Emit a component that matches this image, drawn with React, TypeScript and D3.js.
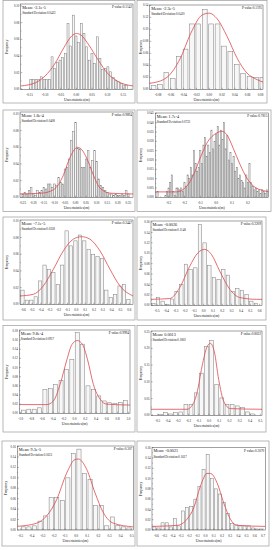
import React from "react";
import * as d3 from "d3";

// ---- data (10 residual histograms) ----
const means = ["-3.1e-5", "-2.3e-5", "1.8e-4", "1.7e-4", "-7.1e-5", "-0.0026", "9.8e-4", "0.0013", "9.3e-5", "-0.0021"];
const pValues = ["0.1142", "0.1195", "0.9894", "0.7815", "0.2447", "0.2209", "0.9994", "0.8022", "0.307", "0.3070"];
const stdDevs = ["0.0422", "0.0410", "0.0408", "0.0733", "0.0358", "0.1148", "0.0917", "0.1802", "0.1613", "0.1617"];

const xTickLabels = [
  ["-0.15", "-0.10", "-0.05", "0.00", "0.05", "0.10", "0.15"],
  ["-0.08", "-0.06", "-0.04", "-0.02", "0.00", "0.02", "0.04", "0.06", "0.08"],
  ["-0.25", "-0.20", "-0.15", "-0.10", "-0.05", "0.00", "0.05", "0.10", "0.15", "0.20", "0.25"],
  ["-0.3", "-0.2", "-0.1", "0.0", "0.1", "0.2"],
  ["-0.6", "-0.5", "-0.4", "-0.3", "-0.2", "-0.1", "0.0", "0.1", "0.2", "0.3", "0.4", "0.5", "0.6"],
  ["-0.5", "-0.4", "-0.3", "-0.2", "-0.1", "0.0", "0.1", "0.2", "0.3", "0.4", "0.5", "0.6"],
  ["-1.0", "-0.8", "-0.6", "-0.4", "-0.2", "0.0", "0.2", "0.4", "0.6", "0.8", "1.0"],
  ["-0.5", "-0.4", "-0.3", "-0.2", "-0.1", "0.0", "0.1", "0.2", "0.3", "0.4", "0.5"],
  ["-0.5", "-0.4", "-0.3", "-0.2", "-0.1", "0.0", "0.1", "0.2", "0.3", "0.4", "0.5"],
  ["-0.6", "-0.5", "-0.4", "-0.3", "-0.2", "-0.1", "0.0", "0.1", "0.2", "0.3", "0.4", "0.5", "0.6", "0.7"],
];

const yTickLabels = [
  ["0.00", "0.02", "0.04", "0.06", "0.08", "0.10"],
  ["0.00", "0.02", "0.04", "0.06", "0.08", "0.10", "0.12", "0.14"],
  ["0.00", "0.02", "0.04", "0.06", "0.08", "0.10"],
  ["0.000", "0.005", "0.010", "0.015", "0.020", "0.025", "0.030", "0.035", "0.040", "0.045"],
  ["0.00", "0.02", "0.04", "0.06", "0.08", "0.10"],
  ["0.00", "0.02", "0.04", "0.06", "0.08", "0.10", "0.12", "0.14", "0.16"],
  ["0.00", "0.02", "0.04", "0.06", "0.08", "0.10", "0.12", "0.14", "0.16", "0.18"],
  ["0.00", "0.05", "0.10", "0.15", "0.20", "0.25"],
  ["0.00", "0.02", "0.04", "0.06", "0.08", "0.10", "0.12", "0.14", "0.16"],
  ["0.00", "0.02", "0.04", "0.06", "0.08", "0.10", "0.12", "0.14", "0.16"],
];

const xDomains = [
  [-0.178, 0.181], [-0.093, 0.084], [-0.263, 0.272], [-0.384, 0.33], [-0.638, 0.642],
  [-0.565, 0.625], [-1.026, 1.03], [-0.565, 0.516], [-0.53, 0.514], [-0.654, 0.728],
];
const yTops = [0.1024, 0.1406, 0.1024, 0.0452, 0.101, 0.162, 0.182, 0.252, 0.161, 0.16];

// histogram bins: first edge, bin width, frequency per bin
const binStarts = [-0.15, -0.092, -0.255, -0.375, -0.635, -0.565, -1.0, -0.5, -0.5, -0.65];
const binWidths = [0.0085, 0.01, 0.01, 0.01, 0.05, 0.05, 0.1, 0.05, 0.05, 0.05];

const binHeights = [
  [0.012, 0.012, 0.012, 0.012, 0.015, 0.012, 0.012, 0.012, 0.039, 0.025, 0.032, 0.035, 0.038, 0.043, 0.079, 0.052, 0.089, 0.064, 0.056,
    0.079, 0.067, 0.051, 0.035, 0.043, 0.031, 0.063, 0.037, 0.024, 0.025, 0.027, 0.021, 0.014, 0.011, 0.009, 0.007, 0.005, 0.005],
  [0.006, 0.008, 0.028, 0.018, 0.055, 0.067, 0.109, 0.109, 0.133, 0.109, 0.109, 0.072, 0.063, 0.041, 0.026, 0.021, 0.02, 0.02],
  [0.004, 0.006, 0.004, 0.008, 0.012, 0.004, 0.002, 0.008, 0.006, 0.008, 0.012, 0.01, 0.016, 0.016, 0.012, 0.016, 0.014, 0.024,
    0.018, 0.016, 0.034, 0.036, 0.046, 0.068, 0.079, 0.09, 0.059, 0.058, 0.036, 0.036, 0.046, 0.056, 0.036, 0.044, 0.056, 0.043,
    0.022, 0.014, 0.012, 0.008, 0.006, 0.004, 0.004, 0.002, 0.004, 0.002, 0.002, 0.004, 0.002, 0.008, 0.004],
  [0.003, 0, 0, 0, 0, 0.001, 0.003, 0.005, 0.008, 0.012,
    0.003, 0.001, 0.005, 0.005, 0.004, 0.005, 0.003, 0.008, 0.006, 0.012,
    0.01, 0.016, 0.012, 0.025, 0.018, 0.014, 0.016, 0.025, 0.018, 0.028,
    0.032, 0.022, 0.028, 0.024, 0.036, 0.026, 0.03, 0.034, 0.038, 0.028,
    0.036, 0.031, 0.04, 0.026, 0.033, 0.02, 0.024, 0.018, 0.022, 0.014,
    0.016, 0.01, 0.012, 0.009, 0.008, 0.005, 0.012, 0.008, 0.018, 0.008,
    0.006, 0.004, 0.005, 0.003, 0.004, 0.002, 0.004, 0.003, 0.002, 0.004],
  [0.017, 0.005, 0.005, 0.009, 0.028, 0.047, 0.042, 0.038, 0.024, 0.047, 0.088, 0.07, 0.076, 0.083, 0.076, 0.066, 0.06, 0.057,
    0.055, 0.017, 0.008, 0.012, 0.022, 0.024, 0.006],
  [0.004, 0.015, 0.008, 0.002, 0.012, 0.027, 0.04, 0.079, 0.069, 0.072, 0.155, 0.12, 0.077, 0.053, 0.05, 0.069, 0.058, 0.027,
    0.032, 0.029, 0.021, 0.008, 0.004],
  [0.007, 0.009, 0.009, 0.012, 0.052, 0.054, 0.063, 0.072, 0.096, 0.118, 0.176, 0.151, 0.06, 0.052, 0.038, 0.027, 0.023, 0.022,
    0.024, 0.028],
  [0.002, 0.008, 0.004, 0.008, 0.01, 0.033, 0.033, 0.067, 0.126, 0.205, 0.223, 0.092, 0.052, 0.033, 0.033, 0.028, 0.023, 0.01, 0.004],
  [0.006, 0.006, 0.008, 0.017, 0.027, 0.062, 0.062, 0.057, 0.1, 0.147, 0.155, 0.108, 0.097, 0.047, 0.047, 0.008, 0.025, 0.009,
    0.006, 0.004],
  [0.006, 0.004, 0.014, 0.014, 0.006, 0.022, 0.008, 0.037, 0.044, 0.046, 0.06, 0.085, 0.118, 0.147, 0.1, 0.08, 0.07, 0.054,
    0.032, 0.013, 0.01, 0.008, 0.008, 0.008, 0.004, 0.002, 0.002],
];

// red fitted curves
const fitCurves: number[][][] = [
  [[-0.178, 0.004], [-0.13, 0.008], [-0.1, 0.016], [-0.07, 0.03], [-0.04, 0.05], [-0.015, 0.064], [0.0, 0.067], [0.015, 0.065],
    [0.04, 0.053], [0.07, 0.035], [0.1, 0.019], [0.13, 0.01], [0.181, 0.004]],
  [[-0.093, 0.01], [-0.087, 0.011], [-0.066, 0.02], [-0.045, 0.052], [-0.029, 0.093], [-0.011, 0.124], [0.0, 0.127],
    [0.012, 0.118], [0.028, 0.088], [0.0435, 0.052], [0.059, 0.027], [0.075, 0.016], [0.084, 0.012]],
  [[-0.263, 0.004], [-0.16, 0.005], [-0.105, 0.009], [-0.057, 0.027], [-0.034, 0.043], [-0.012, 0.055], [0.009, 0.06],
    [0.03, 0.057], [0.053, 0.047], [0.084, 0.027], [0.116, 0.011], [0.163, 0.005], [0.272, 0.004]],
  [[-0.384, 0.0029], [-0.248, 0.0029], [-0.185, 0.006], [-0.143, 0.012], [-0.101, 0.021], [-0.059, 0.029], [0.004, 0.0345],
    [0.036, 0.0354], [0.067, 0.0336], [0.109, 0.026], [0.151, 0.0175], [0.193, 0.0104], [0.235, 0.006], [0.298, 0.0036], [0.33, 0.003]],
  [[-0.638, 0.01], [-0.487, 0.012], [-0.374, 0.022], [-0.26, 0.042], [-0.147, 0.064], [-0.034, 0.078], [0.06, 0.081],
    [0.155, 0.078], [0.268, 0.064], [0.381, 0.042], [0.494, 0.022], [0.642, 0.01]],
  [[-0.565, 0.0115], [-0.364, 0.013], [-0.257, 0.034], [-0.15, 0.075], [-0.061, 0.101], [0.011, 0.1075], [0.082, 0.098],
    [0.171, 0.066], [0.279, 0.031], [0.386, 0.015], [0.564, 0.0115], [0.625, 0.0115]],
  [[-1.026, 0.019], [-0.517, 0.019], [-0.393, 0.027], [-0.269, 0.063], [-0.14, 0.118], [-0.05, 0.15], [0.05, 0.159],
    [0.15, 0.15], [0.24, 0.118], [0.35, 0.063], [0.474, 0.031], [0.598, 0.02], [1.03, 0.018]],
  [[-0.565, 0.018], [-0.214, 0.018], [-0.182, 0.023], [-0.117, 0.067], [-0.068, 0.146], [-0.019, 0.205], [0.013, 0.215],
    [0.052, 0.19], [0.094, 0.107], [0.143, 0.042], [0.208, 0.02], [0.516, 0.018]],
  [[-0.53, 0.007], [-0.356, 0.013], [-0.266, 0.027], [-0.176, 0.058], [-0.086, 0.109], [-0.011, 0.135], [0.02, 0.136],
    [0.095, 0.116], [0.17, 0.071], [0.245, 0.033], [0.335, 0.013], [0.514, 0.006]],
  [[-0.654, 0.007], [-0.348, 0.009], [-0.227, 0.021], [-0.145, 0.043], [-0.064, 0.085], [0.017, 0.11], [0.058, 0.11],
    [0.139, 0.092], [0.22, 0.053], [0.302, 0.021], [0.383, 0.009], [0.728, 0.007]],
];

// ---- layout (pixel boxes of each panel and its plot area) ----
const layout = [
  { box: [3, 0.5, 135, 103], plot: [20.7, 4, 133, 89.3] },
  { box: [137, 0.5, 267, 103], plot: [149.7, 5, 263, 89.3] },
  { box: [3, 110, 135, 211.5], plot: [20, 112, 133, 197.3] },
  { box: [137, 110, 271, 211.5], plot: [155.3, 113, 268.5, 197.3] },
  { box: [3, 217, 135, 320], plot: [20, 220, 133, 304.3] },
  { box: [137, 217, 266, 320], plot: [151, 221, 262, 305.3] },
  { box: [3, 325.5, 135, 432], plot: [19.3, 330, 130, 413.3] },
  { box: [137, 325.5, 266, 432], plot: [151, 331, 262, 415.3] },
  { box: [2, 441, 135, 546], plot: [17.3, 446, 133.3, 530] },
  { box: [137, 441, 269, 546], plot: [152, 447.7, 265.3, 530] },
];

const FONT = "'Liberation Serif', 'Times New Roman', serif";

function Panel({ i }: { i: number }) {
  const [bx0, by0, bx1, by1] = layout[i].box;
  const [pl, pt, pr, pb] = layout[i].plot;
  const x = d3.scaleLinear().domain(xDomains[i]).range([pl, pr]);
  const y = d3.scaleLinear().domain([0, yTops[i]]).range([pb, pt]);

  const xt = xTickLabels[i].map(Number);
  const yt = yTickLabels[i].map(Number);
  const minor = (vals: number[], dom: number[]) => {
    const s = vals[1] - vals[0];
    return d3.range(-40, 41).map(k => vals[0] + (k + 0.5) * s).filter(v => v > dom[0] && v < dom[1]);
  };
  const xMinor = minor(xt, xDomains[i]);
  const yMinor = minor(yt, [0, yTops[i]]);

  const w = binWidths[i];
  const line = d3.line<number[]>().x(d => x(d[0])).y(d => y(d[1])).curve(d3.curveMonotoneX);
  const clipId = `clip-${i}`;

  return (
    <g>
      <rect x={bx0} y={by0} width={bx1 - bx0} height={by1 - by0} fill="#fff" stroke="#9a9a9a" strokeWidth={0.7} />
      <clipPath id={clipId}>
        <rect x={pl} y={pt} width={pr - pl} height={pb - pt} />
      </clipPath>
      <g clipPath={`url(#${clipId})`}>
        {binHeights[i].map((h, k) => {
          const x0 = binStarts[i] + k * w;
          const left = x(x0 + w * 0.125);
          const right = x(x0 + w * 0.875);
          if (h <= 0) return null;
          return (
            <rect key={k} x={left} y={y(h)} width={right - left} height={y(0) - y(h)}
              fill="#f7f7f7" stroke="#7d7d7d" strokeWidth={0.5} />
          );
        })}
        <path d={line(fitCurves[i]) || ""} fill="none" stroke="#e0474c" strokeWidth={0.8} />
      </g>
      <rect x={pl} y={pt} width={pr - pl} height={pb - pt} fill="none" stroke="#444" strokeWidth={0.5} />
      {xt.map((v, k) => (
        <g key={"xt" + k}>
          <line x1={x(v)} x2={x(v)} y1={pb} y2={pb - 1.6} stroke="#444" strokeWidth={0.4} />
          <text x={x(v)} y={pb + 6.6} fontSize={3.2} textAnchor="middle" fill="#222">{xTickLabels[i][k]}</text>
        </g>
      ))}
      {xMinor.map((v, k) => (
        <line key={"xm" + k} x1={x(v)} x2={x(v)} y1={pb} y2={pb - 0.9} stroke="#444" strokeWidth={0.35} />
      ))}
      {yt.map((v, k) => (
        <g key={"yt" + k}>
          <line x1={pl} x2={pl + 1.6} y1={y(v)} y2={y(v)} stroke="#444" strokeWidth={0.4} />
          <text x={pl - 1.4} y={y(v) + 1.1} fontSize={3.1} textAnchor="end" fill="#222">{yTickLabels[i][k]}</text>
        </g>
      ))}
      {yMinor.map((v, k) => (
        <line key={"ym" + k} x1={pl} x2={pl + 0.9} y1={y(v)} y2={y(v)} stroke="#444" strokeWidth={0.35} />
      ))}
      <text x={(pl + pr) / 2} y={pb + 12} fontSize={3.8} textAnchor="middle" fill="#222">Uncertainties(m)</text>
      <text transform={`translate(${bx0 + 5.2},${(pt + pb) / 2}) rotate(-90)`} fontSize={3.4} textAnchor="middle" fill="#222">Frequency</text>
      <text x={pl + 1.5} y={pt + 4.6} fontSize={4.2} fill="#111">{`Mean:  ${means[i]}`}</text>
      <text x={pr - 1} y={pt + 4.4} fontSize={3.4} textAnchor="end" fill="#111">{`P value:${pValues[i]}`}</text>
      <text x={pl + 1.5} y={pt + 10.2} fontSize={3.1} fill="#111">{`Standard Deviation:${stdDevs[i]}`}</text>
    </g>
  );
}

export default function App() {
  return (
    <svg width={274} height={550} style={{ position: "absolute", left: 0, top: 0, background: "#fff" }}
      fontFamily={FONT}>
      <rect x={0} y={0} width={274} height={550} fill="#fff" />
      {layout.map((_, i) => <Panel key={i} i={i} />)}
    </svg>
  );
}
